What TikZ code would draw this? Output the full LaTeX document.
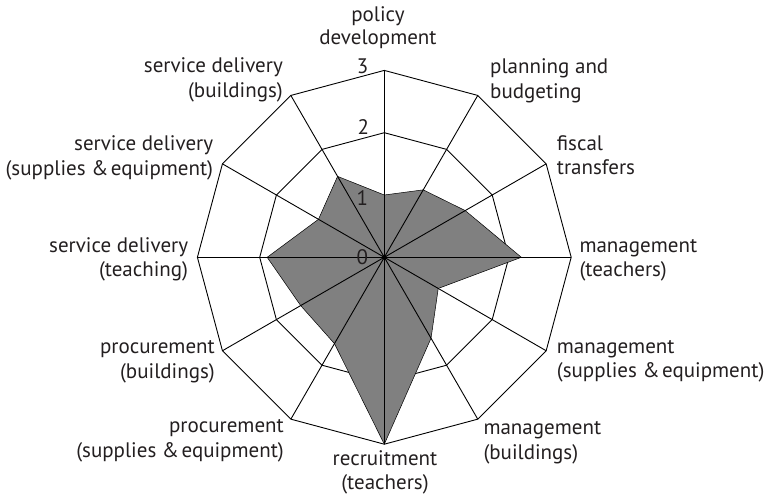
\documentclass[tikz,border=0pt]{standalone}
\usepackage{fontspec}
\setmainfont{PT Sans}
\usetikzlibrary{calc}
\definecolor{txt}{RGB}{35,31,32}
\definecolor{fillg}{RGB}{128,128,128}
\begin{document}
\begin{tikzpicture}[x=1pt,y=1pt,
  lbl/.style={inner sep=0pt, text=txt, font=\fontsize{21}{25}\selectfont},
  gridline/.style={line width=0.9pt, line join=miter, draw=black},
  datafill/.style={fill=fillg, draw=black, line width=0.5pt, line join=miter}]
\useasboundingbox (0,0) rectangle (764,496);
\begin{scope}[shift={(384.3,238.7)}]
  \foreach \i in {0,...,11} {
    \coordinate (g3-\i) at ({90-30*\i}:{3*62.3pt});
    \coordinate (g2-\i) at ({90-30*\i}:{2*62.3pt});
  }
  \foreach \v [count=\j from 0] in {1.0,1.25,1.5,2.2,1.0,1.5,3.0,1.6,1.55,1.88,1.22,1.5} {
    \coordinate (d\j) at ({90-30*\j}:{\v*62.3pt});
  }
  \coordinate (O) at (0,0);
  % grid rings
  \draw[gridline] (g3-0) \foreach \i in {1,...,11} {-- (g3-\i)} -- cycle;
  \draw[gridline] (g2-0) \foreach \i in {1,...,11} {-- (g2-\i)} -- cycle;
  % data
  \filldraw[datafill] (d0) \foreach \i in {1,...,11} {-- (d\i)} -- cycle;
  % spokes
  \foreach \i in {0,...,11} { \draw[gridline] (O) -- (g3-\i); }
  \node[circle, fill=black, inner sep=0pt, minimum size=5pt] (dot) at (O) {};
\end{scope}
% scale labels
\node[lbl] (s3) at (362.7,430) {3};
\node[lbl] (s2) at (363.3,369.3) {2};
\node[lbl] (s1) at (362.3,297.7) {1};
\node[lbl] (s0) at (362.3,239.3) {0};
% axis labels
\node[lbl, anchor=base] (l0a) at (378,474.3) {policy};
\node[lbl, anchor=base] (l0b) at (378,451) {development};
\node[lbl, anchor=base west] (l1a) at (490,422) {planning and};
\node[lbl, anchor=base west] (l1b) at (490,397) {budgeting};
\node[lbl, anchor=base west] (l2a) at (556.7,345.3) {fiscal};
\node[lbl, anchor=base west] (l2b) at (556.7,321) {transfers};
\node[lbl, anchor=base west] (l3a) at (579.3,243.7) {management};
\node[lbl, anchor=base west] (l3b) at (579.3,219.3) {(teachers)};
\node[lbl, anchor=base west] (l4a) at (556.7,142.5) {management};
\node[lbl, anchor=base west] (l4b) at (556.7,118) {(supplies \&\hspace{0.12em}equipment)};
\node[lbl, anchor=base west] (l5a) at (483.3,61) {management};
\node[lbl, anchor=base west] (l5b) at (483.3,36) {(buildings)};
\node[lbl, anchor=base] (l6a) at (385,30.3) {recruitment};
\node[lbl, anchor=base] (l6b) at (385,6) {(teachers)};
\node[lbl, anchor=base east] (l7a) at (284,63.3) {procurement};
\node[lbl, anchor=base east] (l7b) at (284,38.3) {(supplies \&\hspace{0.12em}equipment)};
\node[lbl, anchor=base east] (l8a) at (215,142.7) {procurement};
\node[lbl, anchor=base east] (l8b) at (215,117.7) {(buildings)};
\node[lbl, anchor=base east] (l9a) at (188.3,243.7) {service delivery};
\node[lbl, anchor=base east] (l9b) at (188.3,219.3) {(teaching)};
\node[lbl, anchor=base east] (l10a) at (213.3,345.3) {service delivery};
\node[lbl, anchor=base east] (l10b) at (213.3,320.5) {(supplies \&\hspace{0.12em}equipment)};
\node[lbl, anchor=base east] (l11a) at (283,423) {service delivery};
\node[lbl, anchor=base east] (l11b) at (283,398) {(buildings)};
\end{tikzpicture}
\end{document}
